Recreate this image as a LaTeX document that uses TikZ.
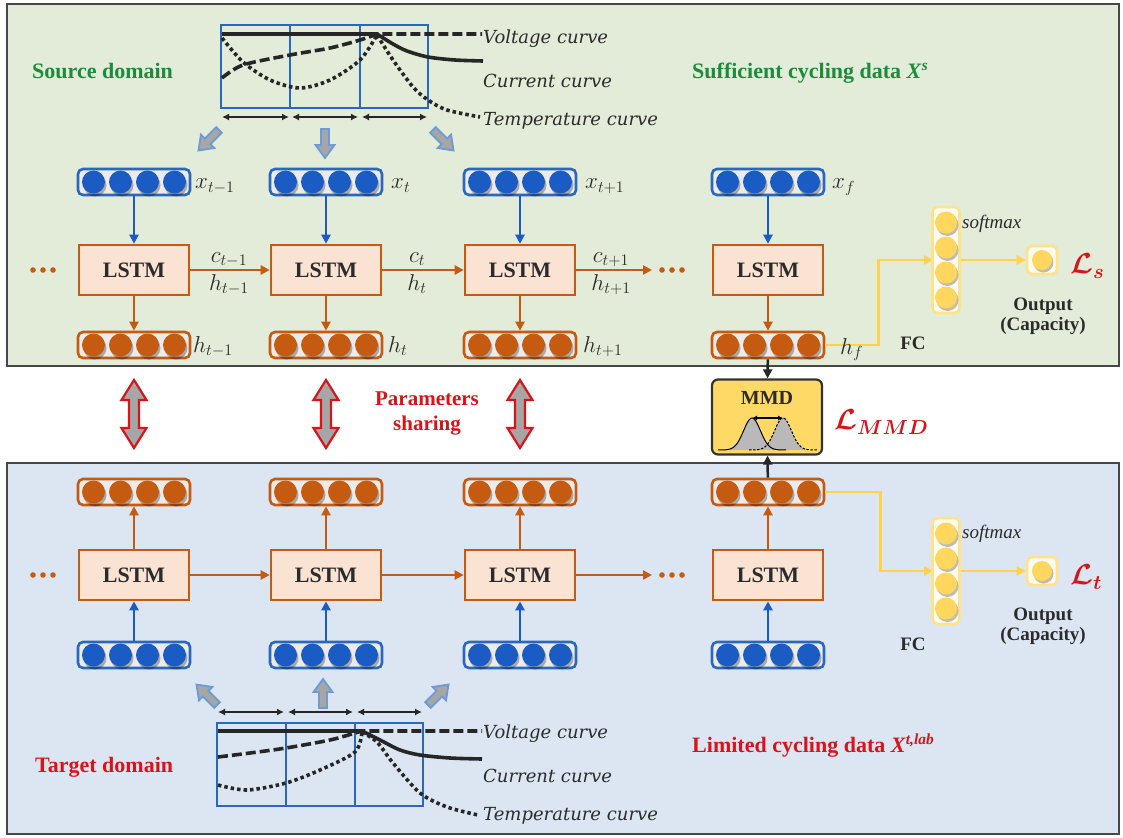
\RequirePackage{fix-cm}
\documentclass[tikz,border=0pt]{standalone}
\usepackage{fontspec}
\setmainfont{Liberation Serif}
\newfontfamily\cfont{DejaVu Serif}
\usepackage{bm}
\usetikzlibrary{arrows.meta,calc}
\definecolor{gpan}{HTML}{E3EBD9}
\definecolor{bpan}{HTML}{DCE6F3}
\definecolor{pborder}{HTML}{474747}
\definecolor{myblue}{HTML}{1A5BC4}
\definecolor{bline}{HTML}{2A68BE}
\definecolor{myorange}{HTML}{C55A11}
\definecolor{lstmfill}{HTML}{FBE3D3}
\definecolor{myyellow}{HTML}{FFD75E}
\definecolor{ylline}{HTML}{FFD24D}
\definecolor{fcline}{HTML}{FFE28A}
\definecolor{mygreen}{HTML}{1E8A3C}
\definecolor{myred}{HTML}{D7141A}
\definecolor{txt}{HTML}{2B2B2B}
\definecolor{garr}{HTML}{A6A6A6}
\definecolor{garrline}{HTML}{6C9BD6}
\definecolor{mmdfill}{HTML}{FFD966}
\newcommand\vrow[5]{%
  \node[rowbox, draw=#4] (#1) at (#2,#3) {};
  \foreach \d in {-40.5,-13.5,13.5,40.5}{%
    \fill[black, opacity=.28] (#1.center) ++(\d+1.5,3) circle (11.5pt);
    \fill[#5] (#1.center) ++(\d,0) circle (11.5pt);
  }}
\newcommand\fccol[3]{%
  \node[fcbox] (#1) at (#2,#3) {};
  \foreach \d in {-37.5,-12.5,12.5,37.5}{%
    \fill[black, opacity=.25] (#1.center) ++(1.5,\d+2.5) circle (11pt);
    \fill[myyellow] (#1.center) ++(0,\d) circle (11pt);
  }}
\newcommand\outcell[3]{%
  \node[outbox] (#1) at (#2,#3) {};
  \fill[black, opacity=.25] (#1.center) ++(1.5,2.5) circle (10pt);
  \fill[myyellow] (#1.center) circle (10pt);}
\newcommand\garrow[3]{%
  \begin{scope}[shift={(#1,#2)},rotate=#3]
    \filldraw[garrsty] (0,-4) -- (16,-4) -- (16,-9.5) -- (29,0) -- (16,9.5) -- (16,4) -- (0,4) -- cycle;
  \end{scope}}
\newcommand\rarrow[3]{%
  \begin{scope}[shift={(#1,#2)}]
    \filldraw[rarrsty] (-5,20) -- (-12.5,20) -- (0,0) -- (12.5,20) -- (5,20) -- (5,#3-20) -- (12.5,#3-20) -- (0,#3) -- (-12.5,#3-20) -- (-5,#3-20) -- cycle;
  \end{scope}}
\newcommand\orgdots[2]{%
  \foreach \k in {0,1,2}{\fill[myorange] (#1+\k*10,#2) circle (2.8pt);}}
\begin{document}
\begin{tikzpicture}[x=1pt,y=-1pt,
  rowbox/.style={rounded corners=5pt, minimum width=112pt, minimum height=26pt, line width=2.6pt, fill=white!92!black, inner sep=0pt},
  lstm/.style={draw=myorange, fill=lstmfill, line width=2.6pt, minimum width=110pt, minimum height=50pt, font=\fontsize{22}{24}\selectfont\bfseries, text=txt, inner sep=0pt},
  lbl/.style={anchor=base west, font=\fontsize{23}{25}\selectfont, text=txt, inner sep=0pt},
  clbl/.style={anchor=base, font=\fontsize{23}{25}\selectfont, text=txt, inner sep=0pt},
  blarr/.style={draw=myblue, line width=2.5pt, -{Triangle[length=9pt,width=9pt]}},
  orarr/.style={draw=myorange, line width=2.5pt, -{Triangle[length=9pt,width=9pt]}},
  ylarr/.style={draw=ylline, line width=2.6pt, -{Triangle[length=9pt,width=9pt]}},
  blkarr/.style={draw=black!85, line width=2.5pt, -{Triangle[length=9pt,width=9pt]}},
  curvelbl/.style={anchor=west, font=\cfont\itshape\fontsize{18}{20}\selectfont, text=txt, inner sep=0pt},
  bigtxt/.style={anchor=west, font=\fontsize{22}{24}\selectfont\bfseries, inner sep=0pt},
  cbox/.style={draw=bline, line width=2pt},
  dbl/.style={draw=black!85, line width=1.8pt, {Latex[length=7pt,width=7pt]}-{Latex[length=7pt,width=7pt]}},
  ccurve/.style={line width=3.6pt, draw=black!85},
  dashpat/.style={dash pattern=on 10pt off 4pt},
  dotpat/.style={dash pattern=on 3.5pt off 3pt},
  garrsty/.style={fill=garr, draw=garrline, line width=1.8pt, line join=miter},
  rarrsty/.style={fill=garr, draw=myred, line width=2.2pt, line join=miter},
  fcbox/.style={rounded corners=5pt, minimum width=27pt, minimum height=106pt, draw=fcline, line width=2.6pt, fill=white!60!fcline!30, inner sep=0pt},
  outbox/.style={rounded corners=5pt, minimum width=30pt, minimum height=28pt, draw=fcline, line width=2.6pt, fill=white!60!fcline!30, inner sep=0pt},
  mmdsty/.style={rounded corners=6pt, minimum width=110pt, minimum height=75pt, draw=black!80, line width=2.2pt, fill=mmdfill, inner sep=0pt},
  smallbold/.style={font=\fontsize{19}{21}\selectfont\bfseries, text=txt, inner sep=0pt, align=center},
  lossred/.style={anchor=west, text=myred, inner sep=0pt, font=\fontsize{29}{31}\selectfont}
]
\useasboundingbox (0,0) rectangle (1123,837);
\fill[white] (0,0) rectangle (1123,837);
% panels
\filldraw[fill=gpan, draw=pborder, line width=2.2pt] (7,4) rectangle (1119,366);
\filldraw[fill=bpan, draw=pborder, line width=2.2pt] (7,463) rectangle (1119,834);

% ---------- top curves ----------
\draw[cbox] (221,25) rectangle (428,108);
\draw[cbox] (290,25) -- (290,108) (360,25) -- (360,108);
\draw[dbl] (222,117) -- (289,117);
\draw[dbl] (292,117) -- (358,117);
\draw[dbl] (362,117) -- (427,117);
\draw[ccurve] (222,34) -- plot[smooth] coordinates {(377,34) (393,44) (407,51) (428,57) (455,60) (483,61)};
\draw[ccurve,dashpat] plot[smooth] coordinates {(222,78) (243,65) (290,55) (330,48) (360,40) (377,34)} -- (482,34);
\draw[ccurve,dotpat] plot[smooth] coordinates {(222,38) (243,62) (270,80) (300,88) (330,80) (360,60) (377,35)};
\draw[ccurve,dotpat] plot[smooth] coordinates {(377,35) (393,60) (413,87) (428,100) (447,110) (480,117)};
\node[curvelbl] (vt) at (483,39) {Voltage curve};
\node[curvelbl] (ct) at (483,81) {Current curve};
\node[curvelbl] (tt) at (483,121) {Temperature curve};
\garrow{219}{130}{-135}
\garrow{325}{129}{-90}
\garrow{433}{130}{-45}

\node[bigtxt, text=mygreen] (src) at (32,71) {Source domain};
\node[bigtxt, text=mygreen] (suf) at (692,73) {Sufficient cycling data \textit{X}\textsuperscript{\textit{s}}};

% ---------- top rows ----------
\vrow{xa}{134}{182}{bline}{myblue}
\vrow{xb}{326}{182}{bline}{myblue}
\vrow{xc}{520}{182}{bline}{myblue}
\vrow{xd}{768}{182}{bline}{myblue}
\node[lstm] (la) at (134,270) {LSTM};
\node[lstm] (lb) at (326,270) {LSTM};
\node[lstm] (lc) at (520,270) {LSTM};
\node[lstm] (ld) at (768,270) {LSTM};
\vrow{ha}{134}{345}{myorange}{myorange}
\vrow{hb}{326}{345}{myorange}{myorange}
\vrow{hc}{520}{345}{myorange}{myorange}
\vrow{hd}{768}{345}{myorange}{myorange}
\foreach \n in {a,b,c,d}{
  \draw[blarr] (x\n) -- (l\n);
  \draw[orarr] (l\n) -- (h\n);
}
\coordinate (dt) at (652,270);
\draw[orarr] (la) -- (lb);
\draw[orarr] (lb) -- (lc);
\draw[orarr] (lc) -- (dt);
\orgdots{33}{270}
\orgdots{662}{270}
\node[clbl] (c1) at (229,262) {$c_{t-1}$};
\node[clbl] (h1) at (229,290) {$h_{t-1}$};
\node[clbl] (c2) at (417,262) {$c_{t}$};
\node[clbl] (h2) at (417,290) {$h_{t}$};
\node[clbl] (c3) at (611,262) {$c_{t+1}$};
\node[clbl] (h3) at (611,290) {$h_{t+1}$};
\node[lbl] (lx1) at (195,189) {$x_{t-1}$};
\node[lbl] (lx2) at (391,189) {$x_{t}$};
\node[lbl] (lx3) at (585,189) {$x_{t+1}$};
\node[lbl] (lx4) at (832,189) {$x_{f}$};
\node[lbl] (lh1) at (193,352) {$h_{t-1}$};
\node[lbl] (lh2) at (388,352) {$h_{t}$};
\node[lbl] (lh3) at (583,352) {$h_{t+1}$};

% FC top
\draw[ylarr] (hd.east) -- ++(53,0) |- (933,260);
\node[lbl] (lh4) at (840,354) {$h_{f}$};
\fccol{fca}{946}{260}
\outcell{oa}{1042}{260}
\draw[ylarr] (fca.east) -- (oa.west);
\node[anchor=west, inner sep=0pt, font=\fontsize{19}{21}\selectfont\itshape, text=txt] (sma) at (962,224) {softmax};
\node[smallbold] (fcla) at (913,343) {FC};
\node[smallbold] (outa) at (1043,316) {Output\\[-1pt](Capacity)};
\node[lossred] (ls) at (1070,266) {$\bm{\mathcal{L}_{s}}$};

% ---------- middle ----------
\rarrow{134}{380}{68}
\rarrow{326}{380}{68}
\rarrow{520}{380}{68}
\node[font=\fontsize{21}{25}\selectfont\bfseries, text=myred, align=center, inner sep=0pt] (ps) at (427,413) {Parameters\\sharing};
\node[mmdsty] (mmd) at (767,417) {};
\node[font=\fontsize{20}{22}\selectfont\bfseries, text=txt, inner sep=0pt] (mmdt) at (767,398) {MMD};
\fill[gray!55] plot[domain=-34:34, samples=60] ({752+\x},{450-32*exp(-(\x)*(\x)/140)});
\fill[gray!55] plot[domain=-34:34, samples=60] ({783+\x},{450-32*exp(-(\x)*(\x)/140)});
\draw[black, line width=1pt] plot[domain=-34:34, samples=60] ({752+\x},{450-32*exp(-(\x)*(\x)/140)});
\draw[black, line width=1pt, dash pattern=on 2.5pt off 1.5pt] plot[domain=-34:34, samples=60] ({783+\x},{450-32*exp(-(\x)*(\x)/140)});
\draw[black, line width=1.5pt, {Latex[length=5pt,width=5pt]}-{Latex[length=5pt,width=5pt]}] (752,418) -- (783,418);
\node[lossred] (lmmd) at (834,422) {$\bm{\mathcal{L}_{MMD}}$};
\draw[blkarr] (hd) -- (mmd);

% ---------- bottom rows ----------
\vrow{hA}{134}{492}{myorange}{myorange}
\vrow{hB}{326}{492}{myorange}{myorange}
\vrow{hC}{520}{492}{myorange}{myorange}
\vrow{hD}{768}{492}{myorange}{myorange}
\node[lstm] (lA) at (134,575) {LSTM};
\node[lstm] (lB) at (326,575) {LSTM};
\node[lstm] (lC) at (520,575) {LSTM};
\node[lstm] (lD) at (768,575) {LSTM};
\vrow{xA}{134}{655}{bline}{myblue}
\vrow{xB}{326}{655}{bline}{myblue}
\vrow{xC}{520}{655}{bline}{myblue}
\vrow{xD}{768}{655}{bline}{myblue}
\foreach \n in {A,B,C,D}{
  \draw[blarr] (x\n) -- (l\n);
  \draw[orarr] (l\n) -- (h\n);
}
\coordinate (dB) at (652,575);
\draw[orarr] (lA) -- (lB);
\draw[orarr] (lB) -- (lC);
\draw[orarr] (lC) -- (dB);
\orgdots{33}{575}
\orgdots{662}{575}
\draw[blkarr] (hD) -- (mmd);

% FC bottom
\draw[ylarr] (hD.east) -- ++(55,0) |- (933,571);
\fccol{fcb}{946}{571}
\outcell{ob}{1042}{571}
\draw[ylarr] (fcb.east) -- (ob.west);
\node[anchor=west, inner sep=0pt, font=\fontsize{19}{21}\selectfont\itshape, text=txt] (smb) at (962,534) {softmax};
\node[smallbold] (fclb) at (913,644) {FC};
\node[smallbold] (outb) at (1043,626) {Output\\[-1pt](Capacity)};
\node[lossred] (lt) at (1070,577) {$\bm{\mathcal{L}_{t}}$};

% ---------- bottom curves ----------
\garrow{217}{705}{135}
\garrow{323}{708}{90}
\garrow{428}{705}{45}
\draw[dbl] (218,712) -- (284,712);
\draw[dbl] (288,712) -- (353,712);
\draw[dbl] (357,712) -- (422,712);
\draw[cbox] (217,723) rectangle (423,806);
\draw[cbox] (286,723) -- (286,806) (355,723) -- (355,806);
\draw[ccurve] (218,731) -- plot[smooth] coordinates {(362,731) (380,740) (400,750) (420,755) (450,758) (482,759)};
\draw[ccurve,dashpat] plot[smooth] coordinates {(218,757) (250,753) (286,748) (330,740) (355,733) (362,731)} -- (482,731);
\draw[ccurve,dotpat] plot[smooth] coordinates {(218,785) (247,790) (286,783) (320,770) (355,752) (362,732)};
\draw[ccurve,dotpat] plot[smooth] coordinates {(362,732) (377,742) (393,763) (420,793) (447,807) (478,815)};
\node[curvelbl] (vb) at (483,734) {Voltage curve};
\node[curvelbl] (cb) at (483,776) {Current curve};
\node[curvelbl] (tb) at (483,816) {Temperature curve};

\node[bigtxt, text=myred] (tgt) at (35,767) {Target domain};
\node[bigtxt, text=myred] (lim) at (692,746) {Limited cycling data \textit{X}\textsuperscript{\textit{t,lab}}};
\end{tikzpicture}
\end{document}
